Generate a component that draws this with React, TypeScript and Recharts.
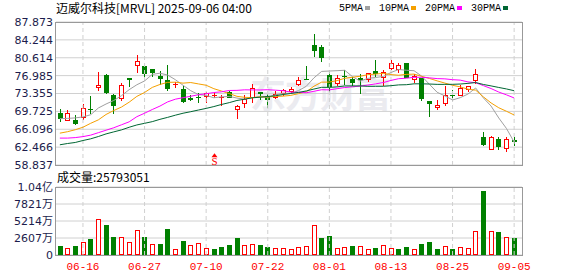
import { ComposedChart, Bar, Line, XAxis, YAxis, CartesianGrid, ReferenceLine, ReferenceDot } from "recharts";

const dates = [
  "06-11", "06-12", "06-13", "06-16", "06-17", "06-18", "06-20", "06-23", "06-24", "06-25",
  "06-26", "06-27", "06-30", "07-01", "07-02", "07-03", "07-07", "07-08", "07-09", "07-10",
  "07-11", "07-14", "07-15", "07-16", "07-17", "07-18", "07-21", "07-22", "07-23", "07-24",
  "07-25", "07-28", "07-29", "07-30", "07-31", "08-01", "08-04", "08-05", "08-06", "08-07",
  "08-08", "08-11", "08-12", "08-13", "08-14", "08-15", "08-18", "08-19", "08-20", "08-21",
  "08-22", "08-25", "08-26", "08-27", "08-28", "08-29", "09-02", "09-03", "09-04", "09-05",
];

const opens = [
  69.39, 68.04, 67.98, 68.65, 70.19, 74.7, 77.05, 72.95, 72.48, 76.44,
  79.2, 78.86, 78.39, 76.85, 76.17, 75.03, 74.36, 72.48, 72.55, 72.81,
  72.75, 72.41, 73.69, 70.13, 71.4, 72.61, 73.62, 72.88, 72.68, 73.55,
  73.89, 75.37, 76.38, 83.3, 82.76, 77.19, 75.57, 76.98, 76.24, 76.58,
  76.38, 77.99, 76.71, 78.59, 78.33, 79.54, 76.31, 76.51, 71.81, 70.66,
  71.47, 72.95, 73.15, 74.29, 76.11, 64.55, 62.06, 64.15, 62.26, 63.94,
];
const highs = [
  70.19, 70.0, 68.92, 71.13, 72.81, 77.65, 77.39, 73.22, 75.57, 76.44,
  81.08, 79.2, 78.39, 77.86, 79.06, 75.64, 74.9, 73.02, 73.49, 73.62,
  73.42, 73.09, 73.96, 71.0, 73.09, 75.3, 73.62, 73.22, 73.89, 74.23,
  74.7, 76.71, 78.86, 85.45, 83.3, 77.72, 77.05, 78.06, 76.71, 77.25,
  77.52, 80.07, 78.06, 80.07, 79.6, 79.54, 77.39, 76.51, 71.81, 72.01,
  74.83, 74.02, 75.03, 74.96, 78.26, 65.56, 64.75, 64.62, 64.62, 64.62,
];
const lows = [
  67.64, 67.84, 66.97, 67.98, 69.12, 73.89, 73.29, 69.25, 71.8, 74.7,
  77.52, 76.51, 76.71, 75.17, 73.96, 74.43, 71.47, 71.81, 71.34, 71.47,
  72.48, 70.8, 72.41, 68.11, 70.33, 71.34, 71.94, 70.4, 72.14, 72.88,
  73.49, 74.9, 76.04, 80.75, 79.74, 73.69, 74.96, 75.17, 74.9, 73.29,
  75.7, 76.71, 74.96, 78.06, 77.59, 76.44, 75.5, 71.81, 68.58, 69.99,
  70.8, 72.28, 73.15, 73.76, 75.37, 62.6, 61.79, 61.79, 61.39, 62.6,
];
const closes = [
  68.18, 69.45, 67.24, 70.33, 69.99, 75.03, 73.49, 70.87, 75.17, 76.11,
  80.01, 77.32, 77.59, 76.31, 74.29, 75.3, 71.67, 72.01, 72.41, 73.42,
  72.95, 72.55, 72.5, 70.73, 72.28, 74.56, 73.29, 71.94, 73.35, 74.02,
  74.29, 76.17, 76.24, 81.95, 80.54, 74.7, 76.51, 76.65, 75.5, 76.04,
  77.45, 77.4, 77.65, 79.54, 79.13, 76.58, 76.98, 72.14, 71.25, 71.1,
  72.95, 72.81, 74.5, 74.83, 77.25, 62.94, 64.55, 62.4, 64.15, 63.41,
];

// 成交量，单位：万股
const volumes = [
  1373, 1017, 1373, 1933, 2442, 5596, 4578, 2747, 2696, 1933,
  3764, 2747, 1628, 1679, 3968, 865, 2137, 1475, 1780, 1017,
  916, 1221, 1526, 2594, 1475, 1628, 1526, 1221, 1017, 1017,
  865, 1170, 1323, 4527, 2594, 2900, 1017, 1170, 1373, 1323,
  865, 1068, 1475, 1017, 865, 1221, 865, 1679, 1984, 865,
  1323, 865, 1170, 1017, 3612, 9767, 3612, 3510, 2696, 2579.3051,
];

const ma5 = [
  68.25, 68.3, 68.4, 68.6, 69.04, 70.41, 71.22, 71.94, 72.91, 74.13,
  75.13, 75.9, 77.24, 77.47, 77.1, 76.16, 75.03, 73.92, 73.14, 72.96,
  72.49, 72.67, 72.76, 72.43, 72.2, 72.52, 72.71, 72.56, 73.08, 73.43,
  73.38, 73.95, 74.81, 76.53, 77.84, 77.92, 77.99, 78.07, 76.78, 75.88,
  76.43, 76.6, 76.81, 77.61, 78.23, 78.07, 77.98, 76.87, 75.22, 73.6,
  72.87, 72.04, 72.51, 73.24, 74.47, 72.47, 70.81, 68.39, 66.26, 63.49,
];
const ma10 = [
  65.3, 65.6, 66.0, 66.5, 67.3, 68.0, 69.1, 69.9, 70.6, 71.59,
  72.77, 73.56, 74.59, 75.19, 75.62, 75.65, 75.46, 75.58, 75.3, 75.03,
  74.33, 73.85, 73.34, 72.78, 72.58, 72.51, 72.67, 72.66, 72.76, 72.82,
  72.97, 73.33, 73.71, 74.83, 75.66, 75.67, 75.97, 76.44, 76.66, 76.86,
  77.18, 77.3, 77.44, 77.2, 77.06, 77.24, 77.29, 76.84, 76.41, 75.92,
  75.47, 75.02, 74.7, 74.23, 74.04, 72.68, 71.44, 70.46, 69.75, 68.99,
];
const ma20 = [
  64.3, 64.3, 64.4, 64.6, 64.9, 65.4, 65.9, 66.4, 67.0, 67.6,
  68.65, 69.35, 70.1, 70.8, 71.65, 72.2, 72.5, 72.8, 73.1, 73.31,
  73.55, 73.7, 73.97, 73.99, 74.1, 74.08, 74.07, 74.12, 74.03, 73.92,
  73.64, 73.58, 73.51, 73.8, 74.12, 74.09, 74.33, 74.56, 74.72, 74.85,
  75.07, 75.31, 75.57, 76.01, 76.36, 76.46, 76.64, 76.65, 76.53, 76.38,
  76.33, 76.16, 76.07, 75.71, 75.55, 74.96, 74.36, 73.65, 73.08, 72.45,
];
const ma30 = [
  62.94, 63.2, 63.41, 63.81, 64.15, 64.62, 65.15, 65.56, 65.96, 66.5,
  66.97, 67.3, 67.64, 68.11, 68.51, 68.95, 69.35, 69.66, 70.0, 70.33,
  70.7, 71.13, 71.5, 71.94, 72.2, 72.48, 72.6, 72.75, 72.9, 73.15,
  73.36, 73.58, 73.87, 74.26, 74.61, 74.6, 74.7, 74.89, 74.9, 74.9,
  74.81, 74.82, 74.83, 74.94, 75.1, 75.14, 75.32, 75.32, 75.28, 75.21,
  75.21, 75.22, 75.28, 75.41, 75.58, 75.19, 74.9, 74.58, 74.28, 73.92,
];

const tickDates = ["06-16", "06-27", "07-10", "07-22", "08-01", "08-13", "08-25", "09-05"];
const priceTicks = [58.837, 62.466, 66.096, 69.725, 73.355, 76.985, 80.614, 84.244, 87.873];
const volumeTicks = [0, 2607, 5214, 7821, 10428];
const signals = [{ date: "07-11", label: "S", price: 60.0 }];
const lastVolume = 25793051;

const RED = "#ff0000";
const GREEN = "#008000";
const GRID = "#d0d0d0";
const BORDER = "#999999";
const AXIS_TEXT = "#1c1c4c";

const maLines = [
  { key: "ma5", name: "5PMA", color: "#a0a0a0" },
  { key: "ma10", name: "10PMA", color: "#f5a000" },
  { key: "ma20", name: "20PMA", color: "#ff00ff" },
  { key: "ma30", name: "30PMA", color: "#006633" },
];

const rows = dates.map((date, i) => ({
  date,
  open: opens[i],
  high: highs[i],
  low: lows[i],
  close: closes[i],
  range: [lows[i], highs[i]],
  volume: volumes[i],
  volUp: i === 0 ? closes[i] >= opens[i] : closes[i] >= closes[i - 1],
  ma5: ma5[i],
  ma10: ma10[i],
  ma20: ma20[i],
  ma30: ma30[i],
}));

function Candle(props: any) {
  const { x, y, width, height, payload } = props;
  if (x == null || payload == null) return null;
  const { open, close, high, low } = payload;
  const top = Math.min(y, y + height);
  const h = Math.abs(height);
  const k = high > low ? h / (high - low) : 0;
  const py = (v: number) => top + (high - v) * k;
  const cx = Math.round(x + width / 2);
  const left = cx - 2;
  const wx = cx + 0.5;
  const yHigh = Math.round(py(high));
  const yLow = Math.round(py(low));
  const bodyTop = Math.round(py(Math.max(open, close)));
  const bodyBot = Math.round(py(Math.min(open, close)));
  if (close >= open) {
    return (
      <g>
        <line x1={wx} x2={wx} y1={yHigh} y2={bodyTop} stroke={RED} />
        <line x1={wx} x2={wx} y1={bodyBot} y2={yLow} stroke={RED} />
        {bodyBot - bodyTop < 2 ? (
          <line x1={left} x2={left + 5} y1={bodyTop + 0.5} y2={bodyTop + 0.5} stroke={RED} />
        ) : (
          <rect x={left + 0.5} y={bodyTop + 0.5} width={4} height={bodyBot - bodyTop} fill="#ffffff" stroke={RED} />
        )}
      </g>
    );
  }
  return (
    <g>
      <line x1={wx} x2={wx} y1={yHigh} y2={yLow} stroke={GREEN} />
      <rect x={left} y={bodyTop} width={5} height={Math.max(1, bodyBot - bodyTop)} fill={GREEN} />
    </g>
  );
}

function VolumeBar(props: any) {
  const { x, y, width, height, payload } = props;
  if (x == null || payload == null || !height) return null;
  const cx = Math.round(x + width / 2);
  const left = cx - 2;
  const top = Math.round(y);
  const bottom = Math.round(y + height);
  if (payload.volUp) {
    return <rect x={left + 0.5} y={top + 0.5} width={4} height={bottom - top - 1} fill="#ffffff" stroke={RED} />;
  }
  return <rect x={left} y={top} width={5} height={bottom - top} fill={GREEN} />;
}

function SignalMark(props: any) {
  const { cx, cy } = props;
  if (cx == null) return null;
  const c = Math.round(cx) + 0.5;
  return (
    <g>
      <path d={`M${c - 3},${cy - 2} L${c},${cy - 6} L${c + 3},${cy - 2} Z`} fill={RED} />
      <text x={c} y={cy + 6} textAnchor="middle" fontSize={11} fill={RED} fontFamily="Liberation Serif">
        S
      </text>
    </g>
  );
}

const formatVolume = (v: number) => (v === 0 ? "0" : v >= 10000 ? `${(v / 10000).toFixed(2)}亿` : `${v}万`);

export default function App() {
  return (
    <div style={{ position: "fixed", left: 0, top: 0, width: 578, height: 276, background: "#ffffff", overflow: "hidden" }}>
      <div
        style={{
          position: "absolute",
          left: 250,
          top: 70,
          fontSize: 36,
          fontWeight: 700,
          color: "#ebebf0",
          fontFamily: "Noto Sans CJK SC",
          lineHeight: "44px",
          letterSpacing: -1,
        }}
      >
        东方财富
      </div>

      <div style={{ position: "absolute", left: 56, top: 0, fontSize: 12, lineHeight: "16px", fontFamily: "Noto Sans CJK SC", color: "#000" }}>
        迈威尔科技[MRVL] 2025-09-06 04:00
      </div>

      <div style={{ position: "absolute", left: 339, top: 0, display: "flex", alignItems: "center", height: 16, gap: 9 }}>
        {maLines.map((m) => (
          <div key={m.key} style={{ display: "flex", alignItems: "center" }}>
            <span style={{ fontFamily: "Liberation Mono", fontSize: 10, color: "#000" }}>{m.name}</span>
            <span style={{ display: "inline-block", width: 5, height: 4, marginLeft: 2, background: m.color }} />
          </div>
        ))}
      </div>

      <div style={{ position: "absolute", left: 57, top: 169, fontSize: 12, lineHeight: "16px", fontFamily: "Noto Sans CJK SC", color: "#000" }}>
        成交量:{lastVolume}
      </div>

      <div style={{ position: "absolute", left: 0, top: 0 }}>
        <ComposedChart width={578} height={182} data={rows} margin={{ top: 22, right: 56, bottom: 17, left: 0 }}>
          <CartesianGrid vertical={false} stroke={GRID} />
          <XAxis dataKey="date" hide padding={{ left: 0, right: 4 }} />
          <YAxis
            domain={[58.837, 87.873]}
            ticks={priceTicks}
            interval={0}
            width={56}
            axisLine={false}
            tickLine={false}
            tickSize={1}
            tickMargin={2}
            tickFormatter={(v: number) => v.toFixed(3)}
            tick={{ fontSize: 11, fill: AXIS_TEXT, fontFamily: "DejaVu Sans" }}
          />
          {tickDates.map((d) => (
            <ReferenceLine key={d} x={d} stroke={GRID} strokeDasharray="4 3" />
          ))}
          {maLines.map((m) => (
            <Line
              key={m.key}
              dataKey={m.key}
              type="linear"
              stroke={m.color}
              strokeWidth={1}
              dot={false}
              activeDot={false}
              isAnimationActive={false}
            />
          ))}
          <Bar dataKey="range" barSize={5} shape={(p: any) => <Candle {...p} />} isAnimationActive={false} />
          {signals.map((s) => (
            <ReferenceDot key={s.date} x={s.date} y={s.price} r={0} shape={(p: any) => <SignalMark {...p} />} />
          ))}
        </ComposedChart>
      </div>

      <div style={{ position: "absolute", left: 0, top: 0 }}>
        <ComposedChart width={578} height={276} data={rows} margin={{ top: 187, right: 56, bottom: 0, left: 0 }}>
          <CartesianGrid vertical={false} stroke={GRID} />
          <XAxis
            dataKey="date"
            ticks={tickDates}
            interval={0}
            height={21}
            padding={{ left: 0, right: 4 }}
            axisLine={false}
            tickLine={false}
            tickSize={5}
            tickMargin={2}
            tick={{ fontSize: 11, fill: RED, fontFamily: "Liberation Mono" }}
          />
          <YAxis
            domain={[0, 10428]}
            ticks={volumeTicks}
            interval={0}
            width={56}
            axisLine={false}
            tickLine={false}
            tickSize={1}
            tickMargin={2}
            tickFormatter={formatVolume}
            tick={{ fontSize: 11, fill: AXIS_TEXT, fontFamily: "DejaVu Sans, Noto Sans CJK SC" }}
          />
          {tickDates.map((d) => (
            <ReferenceLine key={d} x={d} stroke={GRID} strokeDasharray="4 3" />
          ))}
          <Bar dataKey="volume" barSize={5} shape={(p: any) => <VolumeBar {...p} />} isAnimationActive={false} />
        </ComposedChart>
      </div>

      <div style={{ position: "absolute", left: 55, top: 22, width: 468, height: 144, boxSizing: "border-box", border: `1px solid ${BORDER}`, pointerEvents: "none" }} />
      <div style={{ position: "absolute", left: 55, top: 187, width: 468, height: 69, boxSizing: "border-box", border: `1px solid ${BORDER}`, pointerEvents: "none" }} />
    </div>
  );
}
